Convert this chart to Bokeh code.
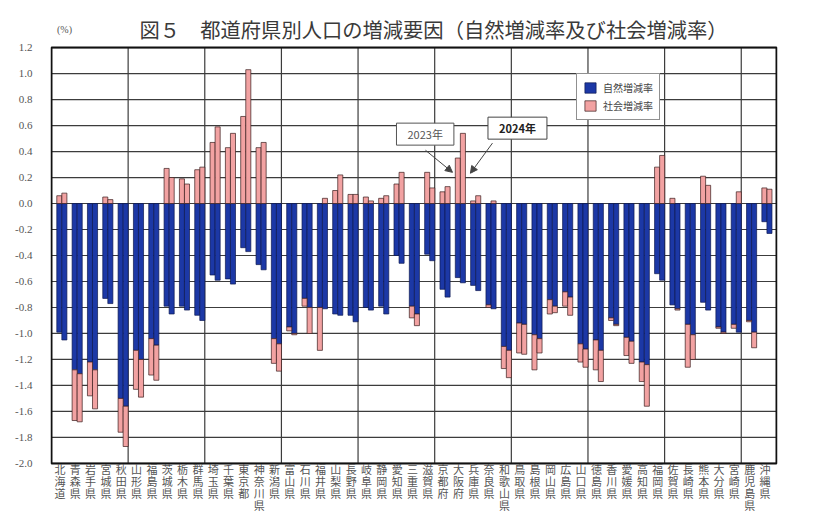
import numpy as np
from bokeh.plotting import figure
from bokeh.models import (Range1d, FixedTicker, NumeralTickFormatter, Legend, LegendItem,
                          Label, Arrow, NormalHead)
from bokeh.core.properties import value
from bokeh.embed import file_html
from bokeh.resources import INLINE

# ---------------- data ----------------
prefectures = ["北海道", "青森県", "岩手県", "宮城県", "秋田県", "山形県", "福島県", "茨城県", "栃木県", "群馬県",
               "埼玉県", "千葉県", "東京都", "神奈川県", "新潟県", "富山県", "石川県", "福井県", "山梨県", "長野県",
               "岐阜県", "静岡県", "愛知県", "三重県", "滋賀県", "京都府", "大阪府", "兵庫県", "奈良県", "和歌山県",
               "鳥取県", "島根県", "岡山県", "広島県", "山口県", "徳島県", "香川県", "愛媛県", "高知県", "福岡県",
               "佐賀県", "長崎県", "熊本県", "大分県", "宮崎県", "鹿児島県", "沖縄県"]

natural_2023 = [-0.99, -1.28, -1.22, -0.73, -1.50, -1.13, -1.04, -0.79, -0.79, -0.86,
                -0.55, -0.58, -0.34, -0.47, -1.04, -0.95, -0.73, -0.80, -0.85, -0.86,
                -0.80, -0.79, -0.40, -0.79, -0.39, -0.66, -0.57, -0.63, -0.78, -1.10,
                -0.92, -1.01, -0.74, -0.68, -1.08, -1.05, -0.88, -1.03, -1.22, -0.54,
                -0.78, -0.93, -0.76, -0.95, -0.93, -0.90, -0.14]
natural_2024 = [-1.05, -1.31, -1.28, -0.77, -1.56, -1.20, -1.09, -0.85, -0.82, -0.90,
                -0.59, -0.62, -0.37, -0.51, -1.08, -1.00, -0.80, -0.81, -0.86, -0.91,
                -0.82, -0.85, -0.46, -0.85, -0.44, -0.72, -0.61, -0.67, -0.81, -1.13,
                -0.93, -1.04, -0.79, -0.72, -1.12, -1.13, -0.93, -1.06, -1.24, -0.59,
                -0.81, -1.01, -0.82, -0.99, -0.99, -0.99, -0.23]
social_2023 = [0.06, -0.39, -0.26, 0.05, -0.26, -0.30, -0.28, 0.27, 0.19, 0.26,
               0.47, 0.43, 0.67, 0.43, -0.19, -0.03, -0.06, -0.33, 0.10, 0.07,
               0.05, 0.04, 0.15, -0.09, 0.24, 0.09, 0.35, 0.02, -0.02, -0.17,
               -0.23, -0.27, -0.11, -0.11, -0.14, -0.23, -0.02, -0.14, -0.15, 0.28,
               0.04, -0.33, 0.21, -0.01, -0.03, -0.01, 0.12]
social_2024 = [0.08, -0.37, -0.30, 0.03, -0.31, -0.29, -0.27, 0.20, 0.15, 0.28,
               0.59, 0.54, 1.03, 0.47, -0.21, -0.01, -0.20, 0.04, 0.22, 0.07,
               0.02, 0.06, 0.24, -0.09, 0.12, 0.13, 0.54, 0.06, 0.02, -0.21,
               -0.23, -0.11, -0.05, -0.14, -0.14, -0.24, -0.01, -0.17, -0.32, 0.37,
               -0.01, -0.19, 0.14, -0.01, 0.09, -0.12, 0.11]

y_ticks = [-2.0, -1.8, -1.6, -1.4, -1.2, -1.0, -0.8, -0.6, -0.4, -0.2, 0.0,
           0.2, 0.4, 0.6, 0.8, 1.0, 1.2]
title_text = "図５　都道府県別人口の増減要因（自然増減率及び社会増減率）"
unit_text = "(%)"
legend_labels = ["自然増減率", "社会増減率"]
year_labels = ["2023年", "2024年"]

BLUE = "#1c38a6"
PINK = "#f2a2a2"
GRID = "#3c3c3c"

# ---------------- geometry from data ----------------
n = len(prefectures)
idx = np.arange(n)
y_min, y_max = y_ticks[0], y_ticks[-1]
x_lo, x_hi = -0.55, n - 0.25          # plotting area in category units


def pink_segment(nat, soc):
    nat = np.asarray(nat, dtype=float)
    soc = np.asarray(soc, dtype=float)
    top = np.where(soc >= 0, soc, nat)
    bottom = np.where(soc >= 0, 0.0, nat + soc)
    return top, bottom


pt23, pb23 = pink_segment(natural_2023, social_2023)
pt24, pb24 = pink_segment(natural_2024, social_2024)
x23 = idx - 0.04
x24 = idx + 0.29
bw = 0.33

# frame spans the whole canvas height; data area is [-2.0, 1.2]
p = figure(width=800, height=516,
           x_range=Range1d(x_lo - 0.065, x_hi + 0.065), y_range=Range1d(-2.4086, 1.5624),
           output_backend="svg", toolbar_location=None,
           min_border_left=50, min_border_right=23, min_border_top=0, min_border_bottom=0)
p.background_fill_color = None
p.border_fill_color = None
p.outline_line_color = None
p.xgrid.visible = False
p.ygrid.visible = False
p.xaxis.visible = False

# grid lines
p.segment(x0=x_lo, x1=x_hi, y0=y_ticks, y1=y_ticks, line_color=GRID, line_width=1.2)
vlines = [k * 5 - 0.55 for k in range(1, n // 5 + 1)]
p.segment(x0=vlines, x1=vlines, y0=y_min, y1=y_max, line_color=GRID, line_width=1.2)

# bars
b_nat23 = p.vbar(x=x23, width=bw, top=0, bottom=natural_2023, fill_color=BLUE,
                 line_color="#0d1850", line_width=0.7)
b_nat24 = p.vbar(x=x24, width=bw, top=0, bottom=natural_2024, fill_color=BLUE,
                 line_color="#0d1850", line_width=0.7)
b_soc23 = p.vbar(x=x23, width=bw, top=pt23, bottom=pb23, fill_color=PINK,
                 line_color="#3a1c1c", line_width=0.7)
b_soc24 = p.vbar(x=x24, width=bw, top=pt24, bottom=pb24, fill_color=PINK,
                 line_color="#3a1c1c", line_width=0.7)

# plot border
p.quad(left=x_lo, right=x_hi, bottom=y_min, top=y_max, fill_color=None,
       line_color="#111111", line_width=2)

# category labels, stacked vertically under the axis
p.text(x=idx, y=y_min, text=["\n".join(name) for name in prefectures],
       text_align="center", text_baseline="top", y_offset=-2,
       text_font=value("Noto Sans CJK JP"), text_font_size="11px",
       text_line_height=0.74, text_color="#555555")

# y axis
p.yaxis.ticker = FixedTicker(ticks=y_ticks)
p.yaxis.formatter = NumeralTickFormatter(format="0.0")
p.yaxis.major_label_text_font = "Liberation Serif"
p.yaxis.major_label_text_font_size = "11px"
p.yaxis.major_label_text_color = "#555555"
p.yaxis.major_label_standoff = 12
p.yaxis.major_tick_line_color = None
p.yaxis.minor_tick_line_color = None
p.yaxis.axis_line_color = None

# legend
legend = Legend(items=[LegendItem(label=legend_labels[0], renderers=[b_nat23]),
                       LegendItem(label=legend_labels[1], renderers=[b_soc23])],
                location=(526, 396))
legend.label_text_font = "Noto Sans CJK JP"
legend.label_text_font_size = "10px"
legend.label_text_color = "#444444"
legend.glyph_width = 14
legend.glyph_height = 13
legend.padding = 6
legend.spacing = 3
legend.label_standoff = 6
legend.border_line_color = "#222222"
legend.border_line_width = 1
legend.background_fill_color = "white"
legend.background_fill_alpha = 1.0
p.add_layout(legend)

# title and unit
p.add_layout(Label(x=383, y=488, x_units="screen", y_units="screen", text=title_text,
                   text_align="center", text_baseline="middle",
                   text_font="Noto Sans CJK JP", text_font_size="20.3px", text_color="#3a3a3a"))
p.add_layout(Label(x=14, y=487, x_units="screen", y_units="screen", text=unit_text,
                   text_align="center", text_baseline="middle",
                   text_font="Liberation Serif", text_font_size="10px", text_color="#555555"))

# year annotations pointing at Osaka
osaka = prefectures.index("大阪府")
p.add_layout(Label(x=osaka - 2.17, y=0.534, text=year_labels[0], text_align="center",
                   text_baseline="middle", text_font="Noto Sans CJK JP", text_font_size="11px",
                   text_color="#555555", border_line_color="#555555", border_line_width=1,
                   background_fill_color="white", padding=(11, 3)))
p.add_layout(Label(x=osaka + 3.85, y=0.58, text=year_labels[1], text_align="center",
                   text_baseline="middle", text_font="Noto Sans CJK JP", text_font_size="11px",
                   text_font_style="bold", text_color="#222222", border_line_color="#444444",
                   border_line_width=1, background_fill_color="white", padding=(11, 3)))
p.add_layout(Arrow(x_start=osaka - 2.15, y_start=0.41, x_end=osaka - 0.39, y_end=0.24,
                   line_color="#444444", line_width=1,
                   end=NormalHead(size=7, fill_color="#444444", line_color="#444444")))
p.add_layout(Arrow(x_start=osaka + 2.22, y_start=0.465, x_end=osaka + 0.78, y_end=0.233,
                   line_color="#444444", line_width=1,
                   end=NormalHead(size=7, fill_color="#444444", line_color="#444444")))

open("out.html", "w").write(file_html(p, INLINE))
